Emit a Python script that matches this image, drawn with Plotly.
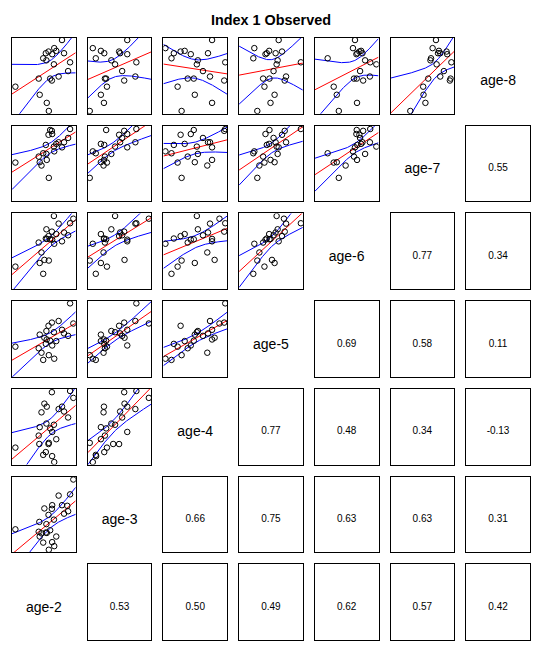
import numpy as np
import plotly.graph_objects as go
from math import gamma, sqrt, pi

# ---------------- data (positions, panel units 0..1) -------------
# one entry per cohort; None = age not (yet) observed for that cohort
ages = ["age-2", "age-3", "age-4", "age-5", "age-6", "age-7", "age-8"]

age8 = [0.973, 0.866, 0.830, 0.821, 0.799, 0.799, 0.786, 0.732, 0.705, 0.679,
        0.652, 0.563, 0.491, 0.464, 0.464, 0.438, 0.357, 0.250, 0.143, 0.036,
        None, None, None, None, None, None]
age7 = [0.714, 0.661, 0.760, 0.880, 0.746, 0.781, 0.890, 0.636, 0.627, 0.956,
        0.724, 0.838, 0.781, 0.592, 0.943, 0.932, 0.513, 0.518, 0.548, 0.311,
        0.474, None, None, None, None, None]
age6 = [0.631, 0.599, 0.727, 0.700, 0.668, 0.748, 0.653, 0.202, 0.790, 0.870,
        0.966, 0.711, 0.865, 0.615, 0.658, 0.759, 0.297, 0.345, 0.663, 0.377,
        0.484, 0.930, 0.386, None, None, None]
age5 = [0.621, 0.239, 0.472, 0.674, 0.435, 0.573, 0.414, 0.223, 0.605, 0.970,
        0.589, 0.541, 0.737, 0.377, 0.477, 0.716, 0.398, 0.557, 0.493, 0.286,
        0.318, 0.704, 0.516, None, None, None]
age4 = [0.764, 0.032, 0.334, 0.270, 0.164, 0.700, 0.430, 0.127, 0.541, 0.971,
        0.525, 0.621, 0.732, 0.382, 0.477, 0.955, 0.223, 0.493, 0.764, 0.286,
        0.689, 0.880, 0.804, 0.271, 0.111, None]
age3 = [0.621, 0.080, 0.207, 0.493, 0.260, 0.509, 0.621, 0.127, 0.371, 0.764,
        0.430, 0.541, 0.748, 0.270, 0.290, 0.573, 0.302, 0.207, 0.255, 0.032,
        0.249, 0.960, 0.578, 0.400, 0.133, 0.613]
age2 = [0.785, 0.663, 0.695, 0.573, 0.531, 0.817, 0.631, 0.490, 0.540, 0.912,
        0.658, 0.881, 0.732, 0.419, 0.599, 0.626, 0.053, 0.435, 0.546, 0.578,
        0.463, 0.963, 0.508, 0.429, 0.630, 0.868]

# correlations printed in the lower-right cells (row variable vs later ages)
corr_age2 = [0.53, 0.50, 0.49, 0.62, 0.57, 0.42]   # vs age-3 .. age-8
corr_age3 = [0.66, 0.75, 0.63, 0.63, 0.31]         # vs age-4 .. age-8
corr_age4 = [0.77, 0.48, 0.34, -0.13]              # vs age-5 .. age-8
corr_age5 = [0.69, 0.58, 0.11]                     # vs age-6 .. age-8
corr_age6 = [0.77, 0.34]                           # vs age-7 .. age-8
corr_age7 = [0.55]                                 # vs age-8

title = "Index 1 Observed"

# ---------------- helpers -----------------------------------------------------------------
series = [age2, age3, age4, age5, age6, age7, age8]
corrs = [corr_age2, corr_age3, corr_age4, corr_age5, corr_age6, corr_age7, []]


def as_arr(v):
    return np.array([np.nan if e is None else e for e in v], dtype=float)


def t_quantile(p, df):
    c = gamma((df + 1) / 2) / (sqrt(df * pi) * gamma(df / 2))

    def cdf(t):
        g = np.linspace(0, t, 4001)
        f = c * (1 + g ** 2 / df) ** (-(df + 1) / 2)
        return 0.5 + np.trapezoid(f, g)
    lo, hi = 0.0, 20.0
    for _ in range(60):
        mid = (lo + hi) / 2
        if cdf(mid) < p:
            lo = mid
        else:
            hi = mid
    return (lo + hi) / 2


W, H = 544, 653
PW, PH = 63.7, 75.7
X0, Y0 = 12.0, 38.0
DX, DY = 75.7, 87.7
FONT = "Liberation Sans, Arial, sans-serif"

fig = go.Figure()
layout = {}
k = 0
for r in range(7):
    for c in range(7):
        k += 1
        left = X0 + c * DX
        top = Y0 + r * DY
        xd = [left / W, (left + PW) / W]
        yd = [1 - (top + PH) / H, 1 - top / H]
        diag = (r + c == 6)
        ax = dict(range=[0, 1], showticklabels=False, ticks="",
                  showgrid=False, zeroline=False, fixedrange=True,
                  showline=not diag, mirror=True, linecolor="black", linewidth=1)
        suf = "" if k == 1 else str(k)
        layout["xaxis" + suf] = dict(ax, domain=xd, anchor="y" + suf)
        layout["yaxis" + suf] = dict(ax, domain=yd, anchor="x" + suf)
        xr, yr = "x" + suf, "y" + suf
        yi = 6 - r       # variable on the vertical axis
        xi = c           # variable on the horizontal axis
        if diag:
            fig.add_trace(go.Scatter(x=[0.5], y=[0.42], mode="text", text=[ages[xi]],
                                     textfont=dict(size=14, color="black", family=FONT),
                                     xaxis=xr, yaxis=yr, showlegend=False, hoverinfo="skip"))
        elif r + c > 6:
            val = corrs[yi][xi - yi - 1]
            fig.add_trace(go.Scatter(x=[0.5], y=[0.43], mode="text", text=[f"{val:.2f}"],
                                     textfont=dict(size=10, color="black", family=FONT),
                                     xaxis=xr, yaxis=yr, showlegend=False, hoverinfo="skip"))
        else:
            xa = as_arr(series[xi])
            ya = as_arr(series[yi])
            ok = ~np.isnan(xa) & ~np.isnan(ya)
            xv, yv = xa[ok], ya[ok]
            n = len(xv)
            b, a = np.polyfit(xv, yv, 1)
            resid = yv - (a + b * xv)
            s = sqrt(np.sum(resid ** 2) / (n - 2))
            xbar = xv.mean()
            sxx = np.sum((xv - xbar) ** 2)
            tq = t_quantile(0.975, n - 2)
            gx = np.linspace(0, 1, 200)
            gy = a + b * gx
            se = s * np.sqrt(1 / n + (gx - xbar) ** 2 / sxx)
            for yy in (gy + tq * se, gy - tq * se):
                fig.add_trace(go.Scatter(x=gx, y=yy, mode="lines",
                                         line=dict(color="#0000FF", width=1),
                                         xaxis=xr, yaxis=yr, showlegend=False, hoverinfo="skip"))
            fig.add_trace(go.Scatter(x=gx, y=gy, mode="lines",
                                     line=dict(color="#FF0000", width=1),
                                     xaxis=xr, yaxis=yr, showlegend=False, hoverinfo="skip"))
            fig.add_trace(go.Scatter(x=xv, y=yv, mode="markers",
                                     marker=dict(symbol="circle-open", size=5.5, color="black",
                                                 line=dict(width=1, color="black")),
                                     xaxis=xr, yaxis=yr, showlegend=False, hoverinfo="skip"))

fig.update_layout(**layout)
fig.update_layout(
    width=W, height=H, margin=dict(l=0, r=0, t=0, b=0),
    paper_bgcolor="white", plot_bgcolor="white", showlegend=False,
    font=dict(family=FONT, color="black"),
    annotations=[dict(text=f"<b>{title}</b>", x=(X0 + 6 * DX + PW + X0) / 2 / W,
                      y=1 - 20.5 / H, xref="paper", yref="paper", showarrow=False,
                      xanchor="center", yanchor="middle",
                      font=dict(size=14.4, family=FONT, color="black"))],
)
fig.write_html("out.html")
